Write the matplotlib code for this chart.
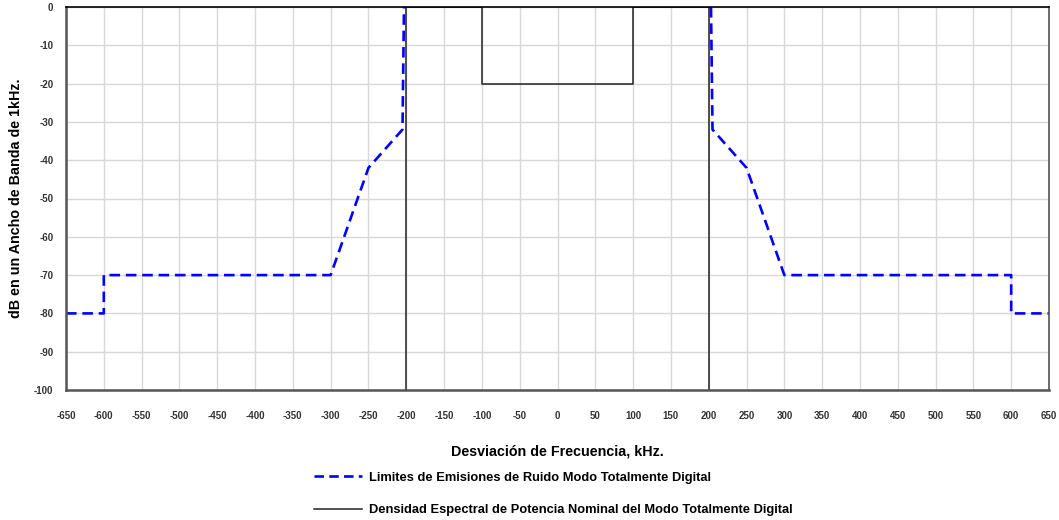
import matplotlib
matplotlib.use('Agg')
import matplotlib.pyplot as plt

plt.rcParams['font.family'] = ['Liberation Sans', 'DejaVu Sans']
plt.rcParams['axes.unicode_minus'] = False

# noise emission limits (kHz, dB in 1 kHz)
limit_left_khz = [-650, -600, -600, -300, -250, -205, -203]
limit_left_db = [-80, -80, -70, -70, -42, -32, 0]
limit_right_khz = [203, 205, 250, 300, 600, 600, 650]
limit_right_db = [0, -32, -42, -70, -70, -80, -80]

# nominal power spectral density
psd_khz = [-200, -200, -100, -100, 100, 100, 200, 200]
psd_db = [-100, 0, 0, -20, -20, 0, 0, -100]

x_ticks = list(range(-650, 651, 50))
y_ticks = list(range(-100, 1, 10))

label_limit = 'Limites de Emisiones de Ruido Modo Totalmente Digital'
label_psd = 'Densidad Espectral de Potencia Nominal del Modo Totalmente Digital'

fig = plt.figure(figsize=(10.59, 5.2), dpi=100)
ax = fig.add_axes([66 / 1059, 1 - 390 / 520, (1049 - 66) / 1059, (390 - 7) / 520])

blue, = ax.plot(limit_left_khz, limit_left_db, color='#0000ff', lw=1.9,
                dashes=(4, 2.2), label=label_limit)
ax.plot(limit_right_khz, limit_right_db, color='#0000ff', lw=1.9, dashes=(4, 2.2))
black, = ax.plot(psd_khz, psd_db, color='#222222', lw=1.1, label=label_psd)

ax.set_xlim(-650, 650)
ax.set_ylim(-100, 0)
ax.set_xticks(x_ticks)
ax.set_yticks(y_ticks)
ax.grid(True, color='#d8d8d8', lw=1.0)
ax.set_axisbelow(True)
ax.tick_params(length=0, labelsize=7, labelcolor='#333333')
ax.tick_params(axis='x', pad=15)
ax.tick_params(axis='y', pad=9)
for t in ax.get_xticklabels() + ax.get_yticklabels():
    t.set_fontweight('bold')

ax.spines['left'].set_linewidth(1.8)
ax.spines['bottom'].set_linewidth(1.8)
ax.spines['left'].set_color('#555555')
ax.spines['bottom'].set_color('#555555')
ax.spines['top'].set_linewidth(1.2)
ax.spines['right'].set_linewidth(1.2)
ax.spines['right'].set_color('#555555')

ax.set_xlabel('Desviación de Frecuencia, kHz.', fontsize=10.3, fontweight='bold', labelpad=17)
ax.set_ylabel('dB en un Ancho de Banda de 1kHz.', fontsize=10.3, fontweight='bold', labelpad=8)

# legend handle for the dashed series, dashes tuned to fit the sample length
blue_handle = plt.Line2D([], [], color='#0000ff', lw=1.9, dashes=(3.6, 2.0))

fig.legend(handles=[blue_handle, black], labels=[label_limit, label_psd],
           loc='upper left', bbox_to_anchor=(308 / 1059, 1 - 465 / 520),
           frameon=False, prop={'size': 9.3, 'weight': 'bold'},
           handlelength=3.7, handletextpad=0.5, labelspacing=1.6, borderpad=0)

fig.savefig('out.png', dpi=100)
